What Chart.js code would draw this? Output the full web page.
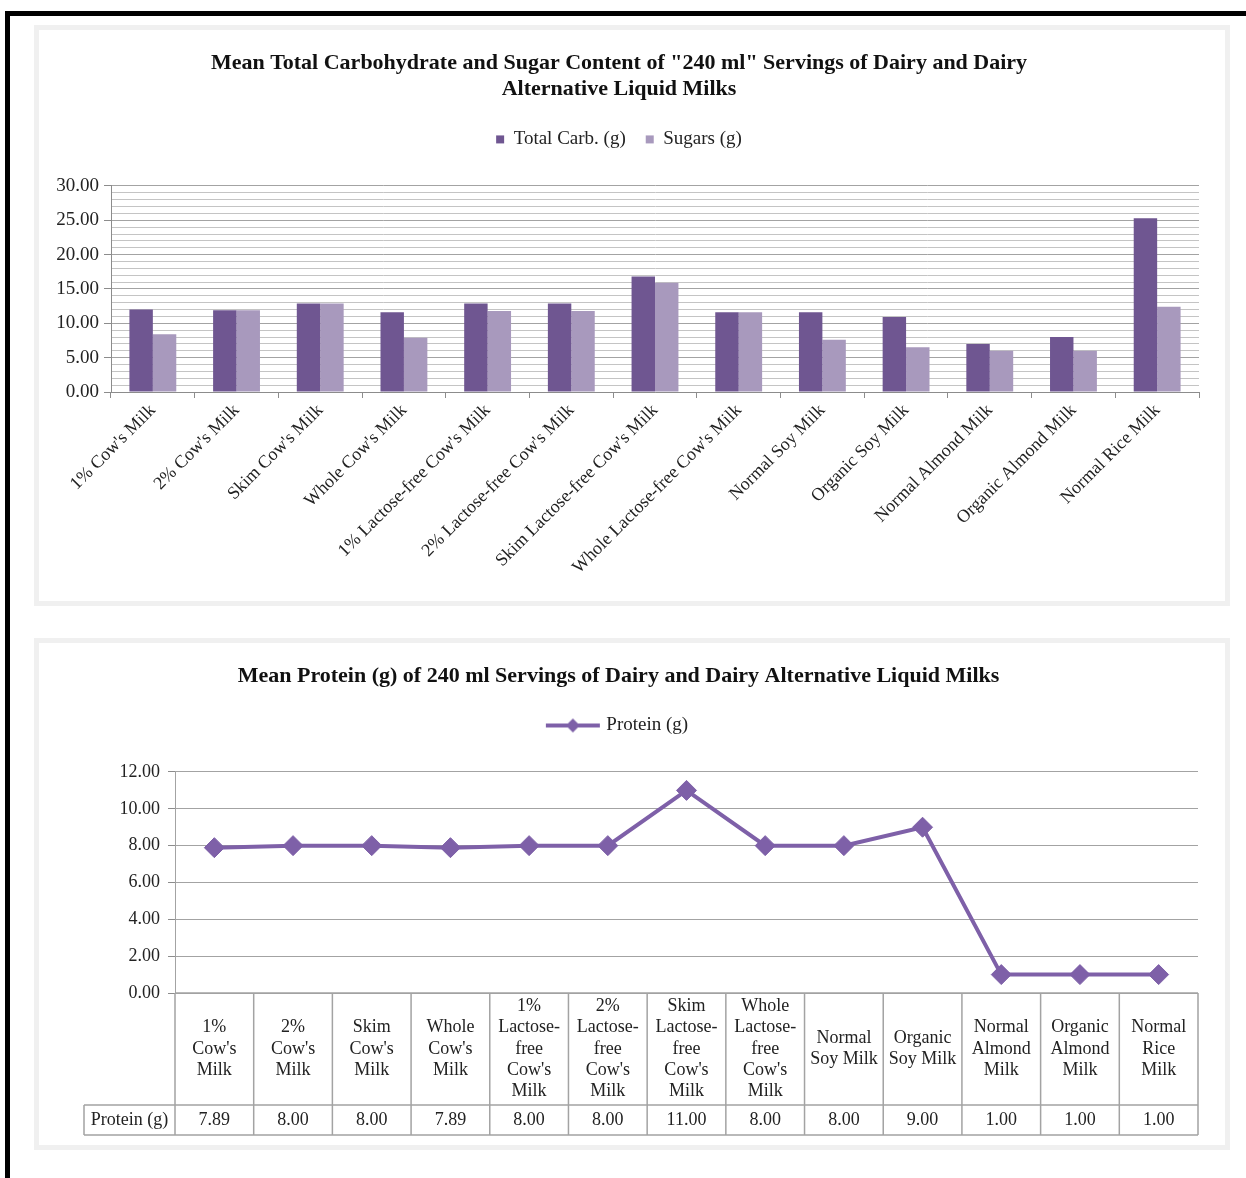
<!DOCTYPE html>
<html>
<head>
<meta charset="utf-8">
<script src="https://cdn.jsdelivr.net/npm/chart.js@4"></script>
<style>
  body { margin: 0; background: #fff; width: 1246px; height: 1178px; position: relative; overflow: hidden; }
  #frame { position: absolute; left: 5px; top: 11px; width: 1300px; height: 1300px; border-top: 5px solid #000; border-left: 5px solid #000; }
  .panel { position: absolute; left: 34px; width: 1196px; border: 5px solid #f0f0f0; box-sizing: border-box; background: #fff; }
  #p1 { top: 25px; height: 581px; }
  #p2 { top: 638px; height: 512px; }
  .panel canvas { display: block; }
</style>
</head>
<body>
<div id="frame"></div>
<div class="panel" id="p1"><canvas id="carbChart"></canvas></div>
<div class="panel" id="p2"><canvas id="proteinChart"></canvas></div>

<script>
// ===== data =====
const categories = [
  "1% Cow's Milk", "2% Cow's Milk", "Skim Cow's Milk", "Whole Cow's Milk",
  "1% Lactose-free Cow's Milk", "2% Lactose-free Cow's Milk", "Skim Lactose-free Cow's Milk",
  "Whole Lactose-free Cow's Milk", "Normal Soy Milk", "Organic Soy Milk",
  "Normal Almond Milk", "Organic Almond Milk", "Normal Rice Milk"
];
const totalCarb = [12.0, 11.9, 12.9, 11.6, 12.9, 12.9, 16.8, 11.6, 11.6, 10.9, 7.0, 8.0, 25.3];
const sugars    = [8.4, 11.9, 12.9, 7.9, 11.8, 11.8, 15.9, 11.6, 7.6, 6.5, 6.0, 6.0, 12.4];

// header cells of the data table under the protein chart
const tableLabels = [
  ["1%", "Cow's", "Milk"], ["2%", "Cow's", "Milk"], ["Skim", "Cow's", "Milk"], ["Whole", "Cow's", "Milk"],
  ["1%", "Lactose-", "free", "Cow's", "Milk"], ["2%", "Lactose-", "free", "Cow's", "Milk"],
  ["Skim", "Lactose-", "free", "Cow's", "Milk"], ["Whole", "Lactose-", "free", "Cow's", "Milk"],
  ["Normal", "Soy Milk"], ["Organic", "Soy Milk"],
  ["Normal", "Almond", "Milk"], ["Organic", "Almond", "Milk"], ["Normal", "Rice", "Milk"]
];
const protein = [7.89, 8.00, 8.00, 7.89, 8.00, 8.00, 11.00, 8.00, 8.00, 9.00, 1.00, 1.00, 1.00];

const FONT = '"Liberation Serif", "Times New Roman", serif';
const darkPurple = '#6f5691';
const lightPurple = '#a899bd';
const lineColor = '#7e60a8';

Chart.defaults.font.family = FONT;
Chart.defaults.color = '#222';

// ===== helpers =====
// extra room under the legend
const legendGap = {
  id: 'legendGap',
  beforeLayout(chart, args, opts) {
    const lg = chart.legend;
    if (!lg || lg._gapped) return;
    const fit = lg.fit;
    lg.fit = function() { fit.call(this); this.height += opts.gap || 0; };
    lg._gapped = true;
  }
};

// data table drawn under the protein chart
const dataTable = {
  id: 'dataTable',
  afterDraw(chart) {
    const { ctx, chartArea: area, scales: { x } } = chart;
    const n = tableLabels.length;
    const w = (area.right - area.left) / n;
    const top = area.bottom, mid = top + 112, bot = top + 142;
    const labelLeft = area.left - 91;

    ctx.save();
    ctx.strokeStyle = '#a3a3a3';
    ctx.lineWidth = 1.5;
    ctx.beginPath();
    ctx.moveTo(area.left, top); ctx.lineTo(area.right, top);
    ctx.moveTo(labelLeft, mid); ctx.lineTo(area.right, mid);
    ctx.moveTo(labelLeft, bot); ctx.lineTo(area.right, bot);
    ctx.moveTo(labelLeft, mid); ctx.lineTo(labelLeft, bot);
    for (let i = 0; i <= n; i++) {
      const xx = area.left + i * w;
      ctx.moveTo(xx, top); ctx.lineTo(xx, bot);
    }
    ctx.stroke();

    ctx.fillStyle = '#222';
    ctx.font = '18px ' + FONT;
    ctx.textAlign = 'center';
    ctx.textBaseline = 'middle';
    const lh = 21.3;
    const cy = (top + mid) / 2;
    tableLabels.forEach((lines, i) => {
      const cx = x.getPixelForValue(i);
      lines.forEach((t, j) => ctx.fillText(t, cx, cy + (j - (lines.length - 1) / 2) * lh));
      ctx.fillText(protein[i].toFixed(2), cx, (mid + bot) / 2);
    });
    ctx.fillText('Protein (g)', (labelLeft + area.left) / 2, (mid + bot) / 2);
    ctx.restore();
  }
};

// ===== chart 1: carbs & sugars =====
new Chart(document.getElementById('carbChart'), {
  type: 'bar',
  data: {
    labels: categories,
    datasets: [
      { label: 'Total Carb. (g)', data: totalCarb, backgroundColor: darkPurple, categoryPercentage: 0.56, barPercentage: 1.0 },
      { label: 'Sugars (g)', data: sugars, backgroundColor: lightPurple, categoryPercentage: 0.56, barPercentage: 1.0 }
    ]
  },
  options: {
    responsive: true,
    maintainAspectRatio: false,
    animation: false,
    layout: { padding: { left: 0, right: 26, top: 0, bottom: 0 } },
    plugins: {
      title: {
        display: true,
        text: ['Mean Total Carbohydrate and Sugar Content of "240 ml" Servings of Dairy and Dairy', 'Alternative Liquid Milks'],
        color: '#111',
        font: { size: 22, weight: 'bold', lineHeight: 1.18 },
        padding: { top: 20, bottom: 8 }
      },
      legend: {
        labels: { boxWidth: 8, boxHeight: 8, padding: 20, color: '#222', font: { size: 19 } }
      },
      legendGap: { gap: 27 },
      tooltip: { enabled: false }
    },
    scales: {
      x: {
        grid: { display: true, drawOnChartArea: false, tickLength: 6, color: '#8c8c8c' },
        border: { color: '#8c8c8c' },
        ticks: { autoSkip: false, minRotation: 45, maxRotation: 45, padding: 2, color: '#222', font: { size: 18 } },
        afterFit: s => { s.height = 209; }
      },
      y: {
        min: 0, max: 30,
        grid: {
          color: c => c.tick && c.tick.value % 5 === 0 ? '#a3a3a3' : '#c4c4c4',
          tickColor: c => c.tick && c.tick.value % 5 === 0 ? '#8c8c8c' : 'rgba(0,0,0,0)',
          tickLength: 7
        },
        border: { color: '#8c8c8c' },
        ticks: {
          stepSize: 1, autoSkip: false, padding: 5, color: '#222', font: { size: 19 },
          callback: v => v % 5 === 0 ? v.toFixed(2) : ''
        },
        afterFit: s => { s.width = 72; }
      }
    }
  },
  plugins: [legendGap]
});

// ===== chart 2: protein =====
const legendLine = document.createElement('canvas');
legendLine.width = 56; legendLine.height = 20;
const lc = legendLine.getContext('2d');
lc.strokeStyle = lineColor; lc.lineWidth = 4;
lc.beginPath(); lc.moveTo(1, 10); lc.lineTo(55, 10); lc.stroke();
lc.fillStyle = lineColor;
lc.beginPath(); lc.moveTo(28, 3); lc.lineTo(35, 10); lc.lineTo(28, 17); lc.lineTo(21, 10); lc.closePath(); lc.fill();

new Chart(document.getElementById('proteinChart'), {
  type: 'line',
  data: {
    labels: categories,
    datasets: [{
      label: 'Protein (g)',
      data: protein,
      borderColor: lineColor,
      backgroundColor: lineColor,
      borderWidth: 4,
      pointStyle: 'rectRot',
      pointRadius: 10,
      pointBorderWidth: 1,
      tension: 0
    }]
  },
  options: {
    responsive: true,
    maintainAspectRatio: false,
    animation: false,
    layout: { padding: { left: 0, right: 27, top: 0, bottom: 10 } },
    plugins: {
      title: {
        display: true,
        text: 'Mean Protein (g) of 240 ml Servings of Dairy and Dairy Alternative Liquid Milks',
        color: '#111',
        font: { size: 22, weight: 'bold', lineHeight: 1.18 },
        padding: { top: 20, bottom: 17 }
      },
      legend: {
        labels: { usePointStyle: true, pointStyle: legendLine, pointStyleWidth: 48, padding: 10, color: '#222', font: { size: 19 } }
      },
      legendGap: { gap: 27 },
      tooltip: { enabled: false }
    },
    scales: {
      x: {
        offset: true,
        grid: { display: false },
        border: { display: false },
        ticks: { display: false },
        afterFit: s => { s.height = 142; }
      },
      y: {
        min: 0, max: 12,
        grid: { color: '#a3a3a3', tickColor: '#8c8c8c', tickLength: 7 },
        border: { color: '#a3a3a3' },
        ticks: { stepSize: 2, padding: 8, color: '#222', font: { size: 18 }, callback: v => v.toFixed(2) },
        afterFit: s => { s.width = 136; }
      }
    }
  },
  plugins: [legendGap, dataTable]
});
</script>
</body>
</html>
